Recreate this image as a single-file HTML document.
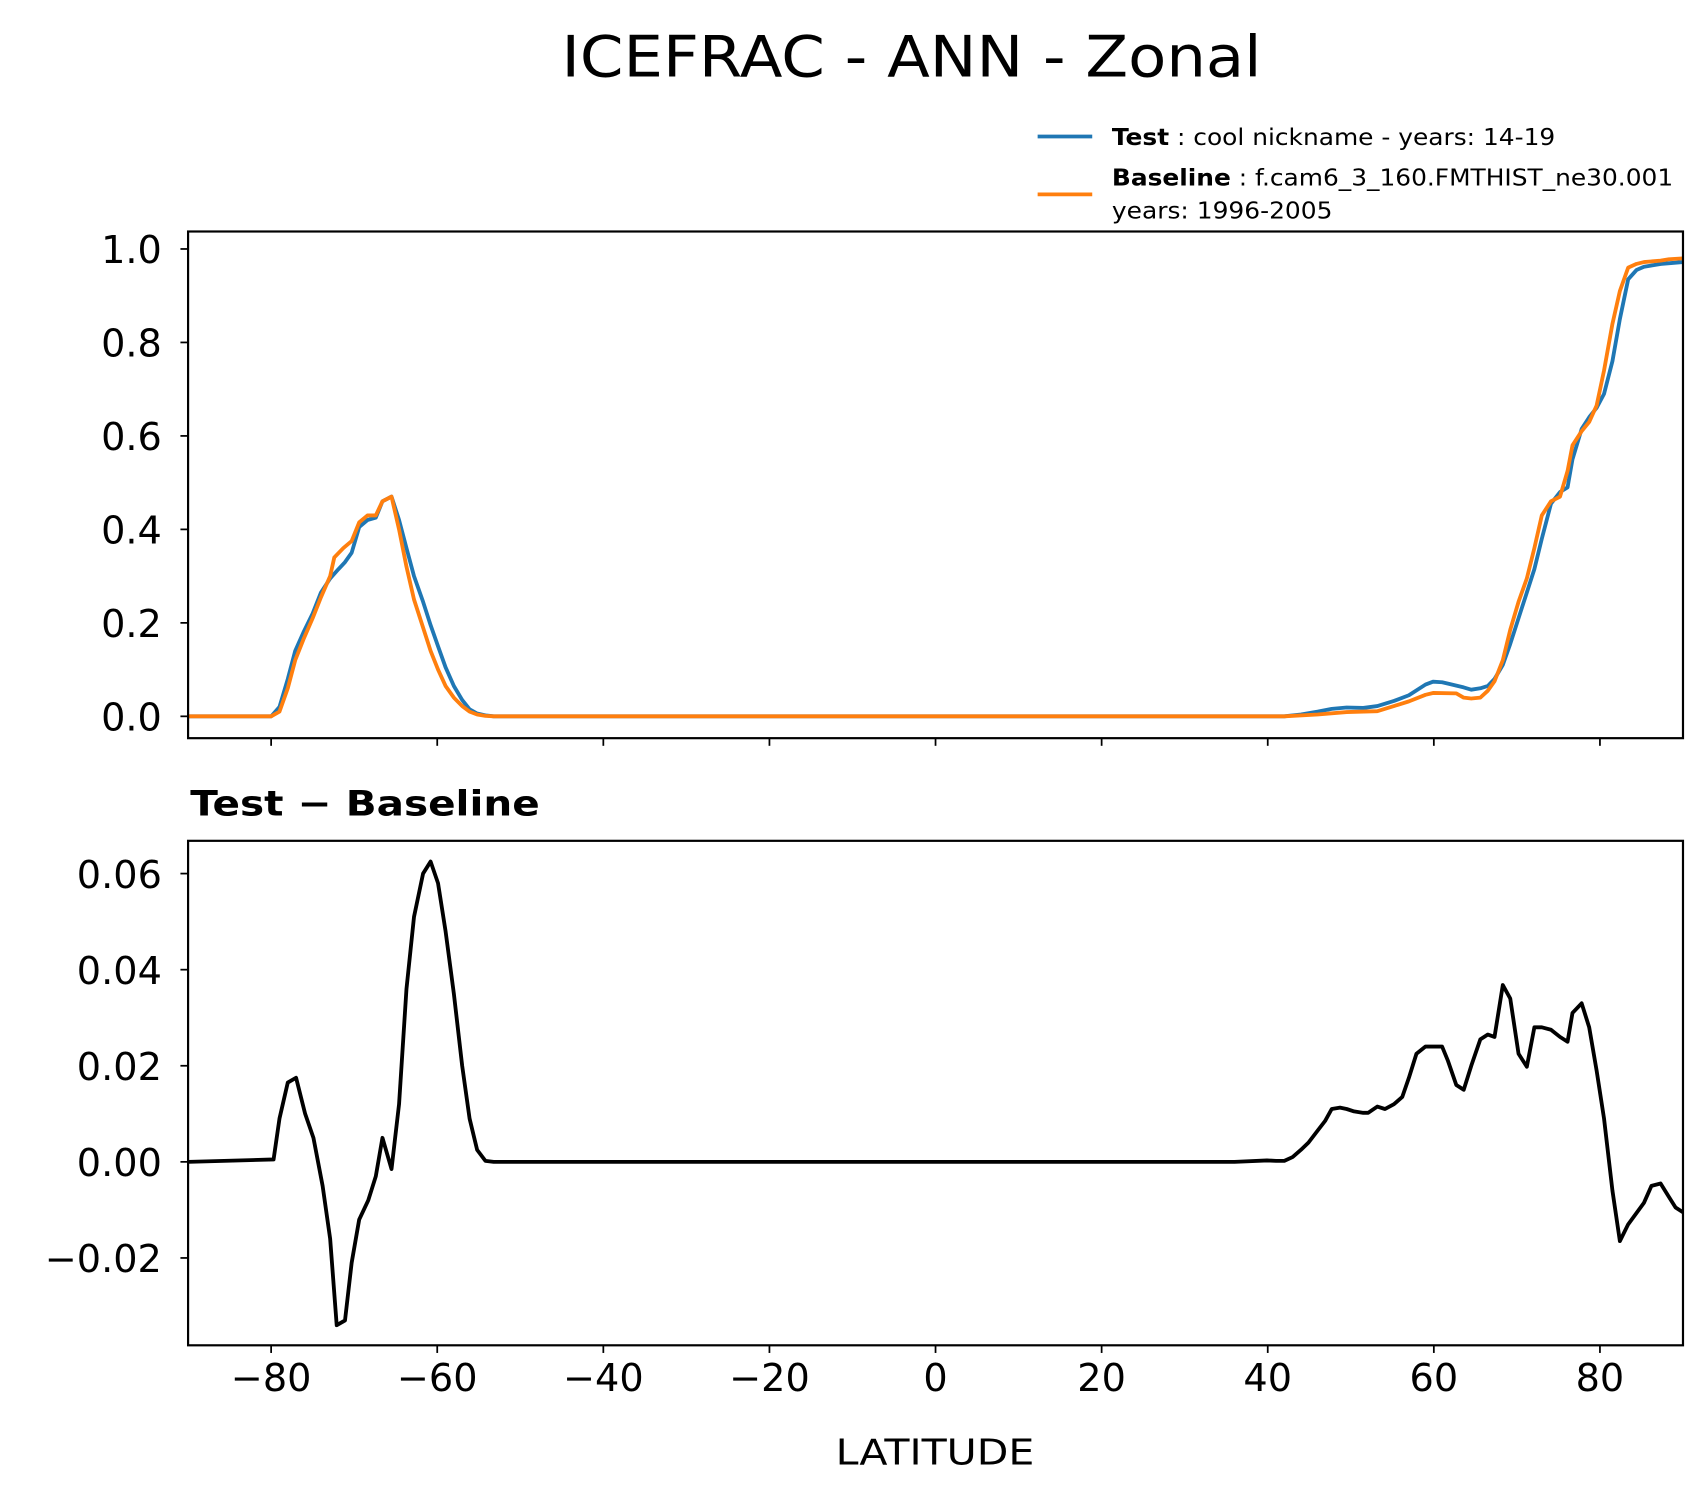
<!DOCTYPE html>
<html><head><meta charset="utf-8"><style>
html,body{margin:0;padding:0;background:#fff;}
svg{display:block;font-family:"DejaVu Sans","Liberation Sans",sans-serif;}
</style></head><body>
<svg id="chart" width="1704" height="1496" viewBox="0 0 1560 1370" xmlns="http://www.w3.org/2000/svg">
<rect width="1560" height="1370" fill="#fff"/>
<text x="514" y="70" font-size="52" textLength="641" lengthAdjust="spacingAndGlyphs">ICEFRAC - ANN - Zonal</text>
<g>
 <line x1="950" y1="125" x2="1000" y2="125" stroke="#1f77b4" stroke-width="3.5"/>
 <text x="1018" y="133" font-size="21" textLength="406" lengthAdjust="spacingAndGlyphs"><tspan font-weight="bold">Test</tspan> : cool nickname - years: 14-19</text>
 <line x1="950" y1="178" x2="1000" y2="178" stroke="#ff7f0e" stroke-width="3.5"/>
 <text x="1018" y="170" font-size="21" textLength="514" lengthAdjust="spacingAndGlyphs"><tspan font-weight="bold">Baseline</tspan> : f.cam6_3_160.FMTHIST_ne30.001</text>
 <text x="1018" y="200" font-size="21" textLength="202" lengthAdjust="spacingAndGlyphs">years: 1996-2005</text>
</g>
<g id="topPanel"></g>
<text x="174" y="747" font-size="32" font-weight="bold" textLength="320" lengthAdjust="spacingAndGlyphs">Test − Baseline</text>
<g id="botPanel"></g>
<text x="765" y="1341" font-size="33" textLength="182" lengthAdjust="spacingAndGlyphs">LATITUDE</text>
</svg>
<script>
const xTicks = [-80,-60,-40,-20,0,20,40,60,80];
const xTickLabels = ["−80","−60","−40","−20","0","20","40","60","80"];
const topTicks = [0,0.2,0.4,0.6,0.8,1.0];
const topTickLabels = ["0.0","0.2","0.4","0.6","0.8","1.0"];
const botTicks = [-0.02,0,0.02,0.04,0.06];
const botTickLabels = ["−0.02","0.00","0.02","0.04","0.06"];

const testLat = [-90,-80,-79,-78,-77.1,-76.1,-75,-74,-72.9,-71.9,-71.1,-70.3,-69.4,-68.4,-67.4,-66.6,-65.5,-64.6,-63.7,-62.8,-61.7,-60.8,-59.9,-59,-58,-57,-56.1,-55.2,-54.2,-53.2,42,44,46,47.7,49.5,51.5,53.2,55.2,57,59,59.9,61,61.7,63.6,64.5,65.6,66.5,67.3,68.3,69.2,70.2,71.2,72.1,73,74.1,75.2,76.1,76.7,77.8,78.7,79.6,80.5,81.5,82.4,83.4,84.4,85.3,87.3,90];
const testVal = [0,0,0.02,0.08,0.14,0.18,0.22,0.265,0.295,0.315,0.33,0.35,0.405,0.42,0.425,0.46,0.47,0.42,0.36,0.30,0.245,0.195,0.15,0.105,0.065,0.035,0.015,0.006,0.002,0,0,0.004,0.01,0.016,0.019,0.018,0.022,0.033,0.045,0.068,0.074,0.073,0.07,0.062,0.057,0.06,0.065,0.08,0.11,0.155,0.21,0.265,0.315,0.38,0.455,0.48,0.49,0.55,0.615,0.64,0.66,0.69,0.76,0.85,0.935,0.955,0.962,0.968,0.972];
const baseLat = [-90,-80,-79,-78,-77.1,-76.1,-75,-74,-72.9,-72.4,-71.3,-70.3,-69.4,-68.4,-67.4,-66.6,-65.5,-64.6,-63.7,-62.8,-61.7,-60.8,-59.9,-59,-58,-57,-56.1,-55.2,-54.2,-53.2,42,46,49.5,53.2,55.2,57,59,59.9,62.7,63.6,64.5,65.6,66.5,67.3,68.3,69.2,70.2,71.2,72.1,73,74.1,75.2,76.1,76.7,77.8,78.7,79.6,80.5,81.5,82.4,83.4,84.4,85.3,87.3,88.3,90];
const baseVal = [0,0,0.01,0.06,0.12,0.165,0.21,0.255,0.3,0.34,0.36,0.375,0.415,0.43,0.43,0.46,0.47,0.4,0.32,0.25,0.19,0.14,0.1,0.065,0.04,0.022,0.01,0.004,0.001,0,0,0.004,0.009,0.011,0.022,0.032,0.046,0.05,0.049,0.04,0.038,0.04,0.055,0.075,0.12,0.185,0.245,0.295,0.36,0.43,0.46,0.47,0.525,0.58,0.61,0.63,0.665,0.74,0.84,0.91,0.96,0.968,0.972,0.975,0.978,0.98];
const diffLat = [-90,-79.7,-79,-78,-77,-75.9,-74.9,-73.8,-72.9,-72.1,-71.1,-70.3,-69.4,-68.3,-67.4,-66.6,-65.5,-64.6,-63.7,-62.8,-61.7,-60.8,-59.9,-59,-58,-57,-56.1,-55.2,-54.2,-53.2,36,39.9,41,42,43,44,44.9,46,46.9,47.7,48.7,49.5,50.4,51.5,52.1,53.2,54.1,55.2,56.2,57,57.9,59,59.9,61,61.7,62.7,63.6,64.5,65.6,66.5,67.3,68.3,69.2,70.2,71.2,72.1,73,74.1,75.2,76.1,76.7,77.8,78.7,79.6,80.5,81.5,82.4,83.4,85.3,86.2,87.3,88.2,89.1,90];
const diffVal = [0,0.0005,0.009,0.0165,0.0175,0.01,0.005,-0.005,-0.016,-0.034,-0.033,-0.021,-0.012,-0.008,-0.003,0.005,-0.0015,0.012,0.036,0.051,0.06,0.0625,0.058,0.048,0.035,0.02,0.009,0.0025,0.0002,0,0,0.0003,0.0002,0.0002,0.001,0.0025,0.004,0.0065,0.0085,0.011,0.0113,0.011,0.0105,0.0102,0.0102,0.0115,0.011,0.012,0.0135,0.0175,0.0225,0.024,0.024,0.024,0.021,0.016,0.015,0.02,0.0255,0.0265,0.026,0.0368,0.034,0.0225,0.0198,0.028,0.028,0.0275,0.026,0.025,0.031,0.033,0.028,0.019,0.009,-0.006,-0.0165,-0.013,-0.0085,-0.005,-0.0045,-0.007,-0.0095,-0.0105];

const NS='http://www.w3.org/2000/svg';
const L=172,R=1541;
const xs=v=>L+(v+90)/180*(R-L);
const yTop=v=>656-v*428;
const yBot=v=>1064-v*4400;
function mk(tag,attrs,parent){const e=document.createElementNS(NS,tag);for(const k in attrs)e.setAttribute(k,attrs[k]);parent.appendChild(e);return e;}

function panel(g,T,B,ticks,labels,yf,showX,name){
  const frame=mk('rect',{x:L,y:T,width:R-L,height:B-T,fill:'none',stroke:'#000','stroke-width':2},g);
  
  
  ticks.forEach((t,i)=>{
    const ln=mk('line',{x1:L-7,x2:L,y1:yf(t),y2:yf(t),stroke:'#000','stroke-width':1.6},g);
    
    
    const tx=mk('text',{x:L-24,y:yf(t)+13,'font-size':35,'text-anchor':'end'},g);
    
    
    tx.textContent=labels[i];
  });
  xTicks.forEach((t,i)=>{
    const ln=mk('line',{x1:xs(t),x2:xs(t),y1:B,y2:B+7,stroke:'#000','stroke-width':1.6},g);
    
    
    if(showX){
      const tx=mk('text',{x:xs(t),y:B+42,'font-size':35,'text-anchor':'middle'},g);
      
      
      tx.textContent=xTickLabels[i];
    }
  });
}
function series(g,lat,val,yf,color,name,clipId){
  const d=lat.map((l,i)=>(i?'L':'M')+xs(l).toFixed(1)+' '+yf(val[i]).toFixed(1)).join(' ');
  const p=mk('path',{d:d,fill:'none',stroke:color,'stroke-width':3.5,'stroke-linejoin':'round','clip-path':'url(#'+clipId+')'},g);
  
  
}
const svgEl=document.getElementById('chart');
const defs=mk('defs',{},svgEl);
const c1=mk('clipPath',{id:'c1'},defs);mk('rect',{x:L,y:212,width:R-L,height:464},c1);
const c2=mk('clipPath',{id:'c2'},defs);mk('rect',{x:L,y:770,width:R-L,height:462},c2);
const topG=document.getElementById('topPanel'), botG=document.getElementById('botPanel');
series(topG,testLat,testVal,yTop,'#1f77b4','test-line','c1');
series(topG,baseLat,baseVal,yTop,'#ff7f0e','baseline-line','c1');
panel(topG,212,676,topTicks,topTickLabels,yTop,false,'top');
series(botG,diffLat,diffVal,yBot,'#000','diff-line','c2');
panel(botG,770,1232,botTicks,botTickLabels,yBot,true,'diff');
</script>
</body></html>
